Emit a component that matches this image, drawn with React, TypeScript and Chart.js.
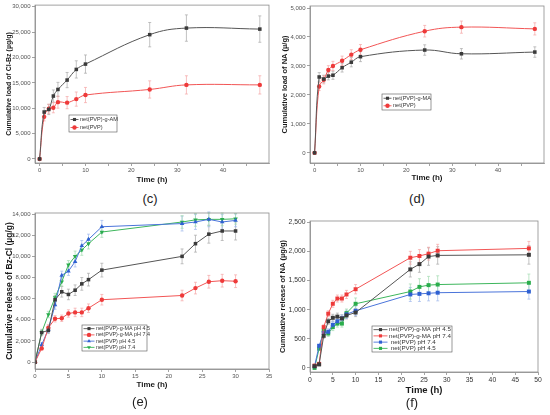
'use client'

import { useEffect, useRef } from 'react'
import { Chart, registerables } from 'chart.js'

Chart.register(...registerables)

const FONT = '"Liberation Sans", Arial, Helvetica, sans-serif'

// (c) cumulative load of Cl-Bz
const loadHours = [0, 1, 2, 3, 4, 6, 8, 10, 24, 32, 48]
const clbzGraftLoad = [0, 9250, 9750, 12400, 13700, 15550, 17650, 18700, 24500, 25800, 25600]
const clbzGraftLoadErr = [0, 900, 1000, 1200, 1400, 1500, 1700, 1800, 2400, 2600, 2600]
const clbzPvpLoad = [0, 8300, 9900, 10100, 11200, 11100, 11800, 12600, 13700, 14600, 14600]
const clbzPvpLoadErr = [0, 800, 900, 1000, 1200, 1200, 1400, 1500, 1700, 1800, 1800]

// (d) cumulative load of NA
const naGraftLoad = [0, 2620, 2550, 2650, 2680, 2940, 3130, 3320, 3550, 3420, 3480]
const naGraftLoadErr = [0, 150, 130, 130, 140, 150, 160, 170, 180, 180, 180]
const naPvpLoad = [0, 2290, 2520, 2860, 3000, 3180, 3390, 3560, 4200, 4340, 4280]
const naPvpLoadErr = [0, 140, 140, 150, 160, 160, 170, 180, 200, 210, 210]

// (e) cumulative release of Bz-Cl
const bzHours = [0, 1, 2, 3, 4, 5, 6, 7, 8, 10, 22, 24, 26, 28, 30]
const bzGraft45 = [0, 2800, 3000, 5900, 6650, 6400, 6800, 7400, 7800, 8700, 10000, 11200, 12100, 12400, 12400]
const bzGraft45Err = [0, 300, 300, 400, 500, 500, 500, 600, 600, 650, 700, 800, 850, 900, 850]
const bzGraft74 = [0, 1300, 3250, 4100, 4150, 4600, 4700, 4700, 5100, 5900, 6300, 7000, 7600, 7700, 7650]
const bzGraft74Err = [0, 150, 300, 300, 300, 350, 400, 400, 400, 500, 500, 550, 600, 600, 600]
const bzPvp45 = [0, 1650, 3100, 5400, 8200, 8600, 9500, 11000, 11600, 12800, 13100, 13250, 13500, 13250, 13400]
const bzPvp45Err = [0, 200, 300, 400, 400, 400, 500, 500, 500, 600, 700, 700, 700, 700, 600]
const bzPvp74 = [0, 2800, 4500, 6100, 7600, 9200, 10000, 10600, 11200, 12300, 13250, 13450, 13500, 13500, 13550]
const bzPvp74Err = [0, 200, 300, 400, 400, 400, 500, 500, 500, 500, 600, 600, 600, 600, 500]

// (f) cumulative release of NA
const naHours = [1, 2, 3, 4, 5, 6, 7, 8, 10, 22, 24, 26, 28, 48]
const naGraft45 = [30, 60, 550, 800, 860, 880, 850, 900, 950, 1690, 1780, 1910, 1930, 1940]
const naGraft45Err = [10, 20, 40, 50, 60, 60, 60, 60, 70, 130, 140, 150, 150, 160]
const naGraft74 = [40, 70, 700, 930, 1100, 1190, 1190, 1260, 1350, 1890, 1920, 1960, 2010, 2050]
const naGraft74Err = [10, 20, 40, 50, 60, 60, 60, 70, 80, 110, 110, 110, 110, 120]
const naPvp74 = [30, 380, 600, 620, 740, 800, 850, 920, 980, 1260, 1270, 1280, 1290, 1310]
const naPvp74Err = [10, 20, 40, 50, 60, 60, 60, 70, 80, 120, 130, 130, 140, 130]
const naPvp45 = [0, 330, 640, 590, 700, 760, 760, 940, 1100, 1310, 1390, 1420, 1430, 1460]
const naPvp45Err = [10, 20, 50, 50, 60, 60, 60, 70, 100, 130, 140, 150, 150, 150]

// tick values
const xTicksLoad = [0, 5, 10, 15, 20, 25, 30, 35, 40, 45]
const xLabelsLoad = [0, 10, 20, 30, 40]
const yTicksC = [0, 5000, 10000, 15000, 20000, 25000, 30000]
const yTicksD = [0, 1000, 2000, 3000, 4000, 5000]
const xTicksE = [0, 5, 10, 15, 20, 25, 30, 35]
const yTicksE = [0, 2000, 4000, 6000, 8000, 10000, 12000, 14000]
const xTicksF = [0, 5, 10, 15, 20, 25, 30, 35, 40, 45, 50]
const yTicksF = [0, 500, 1000, 1500, 2000, 2500]

type Series = {
  label: string
  hours: number[]
  values: number[]
  errors: number[]
  color: string
  line: string
  errColor: string
  marker: 'rect' | 'circle' | 'triangle'
  rotation?: number
  radius: number
}

type PanelDef = {
  caption: string
  left: number
  top: number
  width: number
  height: number
  area: { left: number; top: number; right: number }
  xMin: number
  xMax: number
  xTicks: number[]
  xLabels: number[]
  yMin: number
  yMax: number
  yTicks: number[]
  yTitle: string
  yTitleSize: number
  yTitlePad: number
  xTitleSize: number
  xTitlePad: number
  tickSize: number
  tickColor: string
  smooth: boolean
  legend: { x: number; y: number; w: number; row: number; font: number; sample: number }
  captionX: number
  captionY: number
  series: Series[]
}

const BLACK = { color: '#3a3a3a', line: '#555555', errColor: '#a8a8a8' }
const RED = { color: '#ee3a3a', line: '#f25555', errColor: '#f5a5a5' }
const BLUE = { color: '#2f60d2', line: '#4a74da', errColor: '#9fb7ec' }
const GREEN = { color: '#2aad4c', line: '#3db65c', errColor: '#a2dbb0' }

const panels: PanelDef[] = [
  {
    caption: '(c)', left: 0, top: 0, width: 275, height: 190,
    area: { left: 35, top: 5, right: 269 },
    xMin: -1, xMax: 50, xTicks: xTicksLoad, xLabels: xLabelsLoad,
    yMin: -800, yMax: 30330, yTicks: yTicksC,
    yTitle: 'Cumulative load of Cl-Bz (µg/g)', yTitleSize: 7, yTitlePad: 5,
    xTitleSize: 8, xTitlePad: 5, tickSize: 6, tickColor: '#555', smooth: true,
    legend: { x: 69, y: 115, w: 48, row: 8, font: 5.6, sample: 8 },
    captionX: 150, captionY: 199,
    series: [
      { label: 'net(PVP)-g-AM', hours: loadHours, values: clbzGraftLoad, errors: clbzGraftLoadErr, ...BLACK, marker: 'rect', radius: 2.5 },
      { label: 'net(PVP)', hours: loadHours, values: clbzPvpLoad, errors: clbzPvpLoadErr, ...RED, marker: 'circle', radius: 2.2 },
    ],
  },
  {
    caption: '(d)', left: 275, top: 0, width: 275, height: 190,
    area: { left: 35, top: 6, right: 269 },
    xMin: -1, xMax: 50, xTicks: xTicksLoad, xLabels: xLabelsLoad,
    yMin: -350, yMax: 5070, yTicks: yTicksD,
    yTitle: 'Cumulative load of NA (µ/g)', yTitleSize: 7.5, yTitlePad: 5,
    xTitleSize: 8, xTitlePad: 7, tickSize: 6, tickColor: '#555', smooth: true,
    legend: { x: 107, y: 94, w: 49, row: 7.5, font: 5.6, sample: 8 },
    captionX: 417, captionY: 199,
    series: [
      { label: 'net(PVP)-g-MA', hours: loadHours, values: naGraftLoad, errors: naGraftLoadErr, ...BLACK, marker: 'rect', radius: 2.5 },
      { label: 'net(PVP)', hours: loadHours, values: naPvpLoad, errors: naPvpLoadErr, ...RED, marker: 'circle', radius: 2.2 },
    ],
  },
  {
    caption: '(e)', left: 0, top: 207, width: 275, height: 190,
    area: { left: 35, top: 6, right: 269 },
    xMin: 0, xMax: 35, xTicks: xTicksE, xLabels: xTicksE,
    yMin: -650, yMax: 14100, yTicks: yTicksE,
    yTitle: 'Cumulative release of Bz-Cl (µg/g)', yTitleSize: 8.5, yTitlePad: 5,
    xTitleSize: 8, xTitlePad: 7, tickSize: 6, tickColor: '#555', smooth: false,
    legend: { x: 82, y: 118, w: 65, row: 6.25, font: 5.4, sample: 11 },
    captionX: 140, captionY: 402,
    series: [
      { label: 'net(PVP)-g-MA pH 4.5', hours: bzHours, values: bzGraft45, errors: bzGraft45Err, ...BLACK, marker: 'rect', radius: 2.5 },
      { label: 'net(PVP)-g-MA pH 7.4', hours: bzHours, values: bzGraft74, errors: bzGraft74Err, ...RED, marker: 'circle', radius: 2.2 },
      { label: 'net(PVP) pH 4.5', hours: bzHours, values: bzPvp45, errors: bzPvp45Err, ...BLUE, marker: 'triangle', radius: 2.6 },
      { label: 'net(PVP) pH 7.4', hours: bzHours, values: bzPvp74, errors: bzPvp74Err, ...GREEN, marker: 'triangle', rotation: 180, radius: 2.6 },
    ],
  },
  {
    caption: '(f)', left: 275, top: 207, width: 275, height: 195,
    area: { left: 35, top: 14, right: 263 },
    xMin: 0, xMax: 50, xTicks: xTicksF, xLabels: xTicksF,
    yMin: -70, yMax: 2520, yTicks: yTicksF,
    yTitle: 'Cumulative release of NA (µg/g)', yTitleSize: 7.5, yTitlePad: 3,
    xTitleSize: 9.5, xTitlePad: 6, tickSize: 6.8, tickColor: '#333', smooth: false,
    legend: { x: 97, y: 119, w: 80, row: 6.25, font: 6.2, sample: 14 },
    captionX: 412, captionY: 403,
    series: [
      { label: 'net(PVP)-g-MA pH 4.5', hours: naHours, values: naGraft45, errors: naGraft45Err, ...BLACK, marker: 'rect', radius: 2.8 },
      { label: 'net(PVP)-g-MA pH 7.4', hours: naHours, values: naGraft74, errors: naGraft74Err, ...RED, marker: 'rect', radius: 2.8 },
      { label: ' net(PVP) pH 7.4', hours: naHours, values: naPvp74, errors: naPvp74Err, ...BLUE, marker: 'rect', radius: 2.8 },
      { label: ' net(PVP) pH 4.5', hours: naHours, values: naPvp45, errors: naPvp45Err, ...GREEN, marker: 'rect', radius: 2.8 },
    ],
  },
]

// x-axis height = whatever is left under the plot area
const plotBottom: Record<string, number> = { '(c)': 163, '(d)': 163, '(e)': 162, '(f)': 165 }

function drawMarker(ctx: CanvasRenderingContext2D, s: Series, x: number, y: number) {
  const r = s.radius
  ctx.fillStyle = s.color
  ctx.beginPath()
  if (s.marker === 'rect') {
    const h = r * Math.SQRT1_2
    ctx.rect(x - h, y - h, 2 * h, 2 * h)
  } else if (s.marker === 'circle') {
    ctx.arc(x, y, r, 0, Math.PI * 2)
  } else {
    const dir = s.rotation ? -1 : 1
    ctx.moveTo(x, y - dir * r)
    ctx.lineTo(x + r * 0.87, y + dir * r * 0.5)
    ctx.lineTo(x - r * 0.87, y + dir * r * 0.5)
    ctx.closePath()
  }
  ctx.fill()
}

function ChartPanel({ p }: { p: PanelDef }) {
  const canvasRef = useRef<HTMLCanvasElement>(null)
  const chartRef = useRef<Chart | null>(null)

  useEffect(() => {
    if (!canvasRef.current) return
    if (chartRef.current) chartRef.current.destroy()

    const errorBars = {
      id: 'errorBars',
      beforeDatasetsDraw(chart: any) {
        const { ctx } = chart
        const yScale = chart.scales.y
        p.series.forEach((s, i) => {
          const meta = chart.getDatasetMeta(i)
          ctx.save()
          ctx.strokeStyle = s.errColor
          ctx.lineWidth = 0.7
          meta.data.forEach((pt: any, j: number) => {
            const e = s.errors[j]
            if (!e) return
            const top = yScale.getPixelForValue(s.values[j] + e)
            const bot = yScale.getPixelForValue(s.values[j] - e)
            ctx.beginPath()
            ctx.moveTo(pt.x, top)
            ctx.lineTo(pt.x, bot)
            ctx.moveTo(pt.x - 1.5, top)
            ctx.lineTo(pt.x + 1.5, top)
            ctx.moveTo(pt.x - 1.5, bot)
            ctx.lineTo(pt.x + 1.5, bot)
            ctx.stroke()
          })
          ctx.restore()
        })
      },
    }

    const frame = {
      id: 'frame',
      afterDraw(chart: any) {
        const { ctx, chartArea: a } = chart
        ctx.save()
        ctx.strokeStyle = '#8c8c8c'
        ctx.lineWidth = 0.8
        ctx.strokeRect(a.left, a.top, a.right - a.left, a.bottom - a.top)
        ctx.restore()
      },
    }

    const boxLegend = {
      id: 'boxLegend',
      afterDraw(chart: any) {
        const { ctx } = chart
        const L = p.legend
        const h = L.row * p.series.length + 1
        ctx.save()
        ctx.fillStyle = '#fff'
        ctx.fillRect(L.x, L.y, L.w, h)
        ctx.strokeStyle = '#555'
        ctx.lineWidth = 0.6
        ctx.strokeRect(L.x, L.y, L.w, h)
        ctx.font = `${L.font}px ${FONT}`
        ctx.textBaseline = 'middle'
        p.series.forEach((s, i) => {
          const cy = L.y + L.row * (i + 0.5) + 0.5
          const x0 = L.x + 1.5
          ctx.strokeStyle = s.line
          ctx.lineWidth = 0.9
          ctx.beginPath()
          ctx.moveTo(x0, cy)
          ctx.lineTo(x0 + L.sample, cy)
          ctx.stroke()
          drawMarker(ctx, { ...s, radius: Math.min(s.radius, 2.2) }, x0 + L.sample / 2, cy)
          ctx.fillStyle = '#333'
          ctx.fillText(s.label, x0 + L.sample + 1.5, cy)
        })
        ctx.restore()
      },
    }

    const tickFont = { family: FONT, size: p.tickSize }
    const bottom = plotBottom[p.caption]

    chartRef.current = new Chart(canvasRef.current, {
      type: 'line',
      data: {
        datasets: p.series.map((s) => ({
          label: s.label,
          data: s.hours.map((h, i) => ({ x: h, y: s.values[i] })),
          borderColor: s.line,
          backgroundColor: s.color,
          borderWidth: 1,
          pointStyle: s.marker,
          pointRotation: s.rotation ?? 0,
          pointRadius: s.radius,
          pointBorderWidth: 0,
          pointBackgroundColor: s.color,
          tension: p.smooth ? 0.4 : 0,
          fill: false,
        })),
      },
      options: {
        animation: false,
        responsive: true,
        maintainAspectRatio: false,
        layout: { padding: { top: p.area.top, right: p.width - p.area.right, left: 0, bottom: 0 } },
        plugins: {
          legend: { display: false },
          tooltip: { enabled: false },
        },
        scales: {
          x: {
            type: 'linear',
            min: p.xMin,
            max: p.xMax,
            afterBuildTicks: (axis: any) => {
              axis.ticks = p.xTicks.map((value) => ({ value }))
            },
            afterFit: (axis: any) => {
              axis.height = p.height - bottom
            },
            grid: { drawOnChartArea: false, tickLength: 3, color: '#8c8c8c', lineWidth: 0.8 },
            border: { color: '#8c8c8c', width: 0.8 },
            ticks: {
              font: tickFont,
              color: p.tickColor,
              padding: 1,
              maxRotation: 0,
              autoSkip: false,
              callback: (v: any) => (p.xLabels.includes(Number(v)) ? String(v) : ''),
            },
            title: {
              display: true,
              text: 'Time (h)',
              color: '#1a1a1a',
              font: { family: FONT, size: p.xTitleSize, weight: 'bold' },
              padding: { top: 0, bottom: p.xTitlePad },
            },
          },
          y: {
            type: 'linear',
            min: p.yMin,
            max: p.yMax,
            afterBuildTicks: (axis: any) => {
              axis.ticks = p.yTicks.map((value) => ({ value }))
            },
            afterFit: (axis: any) => {
              axis.width = p.area.left
            },
            grid: { drawOnChartArea: false, tickLength: 3, color: '#8c8c8c', lineWidth: 0.8 },
            border: { color: '#8c8c8c', width: 0.8 },
            ticks: {
              font: tickFont,
              color: p.tickColor,
              padding: 1.5,
              autoSkip: false,
              callback: (v: any) => Number(v).toLocaleString('en-US'),
            },
            title: {
              display: true,
              text: p.yTitle,
              color: '#1a1a1a',
              font: { family: FONT, size: p.yTitleSize, weight: 'bold' },
              padding: { top: p.yTitlePad, bottom: 0 },
            },
          },
        },
      },
      plugins: [errorBars, frame, boxLegend],
    } as any)

    return () => {
      if (chartRef.current) {
        chartRef.current.destroy()
        chartRef.current = null
      }
    }
  }, [p])

  return (
    <div style={{ position: 'absolute', left: p.left, top: p.top, width: p.width, height: p.height }}>
      <canvas ref={canvasRef} />
    </div>
  )
}

export default function App() {
  return (
    <div style={{ position: 'absolute', left: 0, top: 0, width: 550, height: 415, background: '#fff', overflow: 'hidden' }}>
      {panels.map((p) => (
        <ChartPanel key={p.caption} p={p} />
      ))}
      {panels.map((p) => (
        <div
          key={p.caption + '-cap'}
          style={{
            position: 'absolute',
            left: p.captionX - 20,
            top: p.captionY - 8,
            width: 40,
            textAlign: 'center',
            font: `13px ${FONT}`,
            lineHeight: '16px',
            color: '#222',
          }}
        >
          {p.caption}
        </div>
      ))}
    </div>
  )
}
